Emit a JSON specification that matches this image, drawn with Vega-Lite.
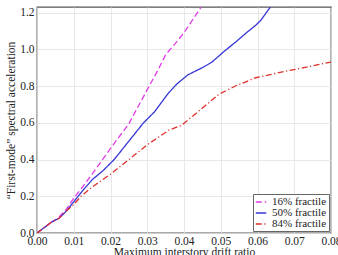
{
  "$schema": "https://vega.github.io/schema/vega-lite/v6.json",
  "width": 294,
  "height": 226,
  "autosize": {"type": "none"},
  "padding": {"left": 37, "top": 7, "right": 7, "bottom": 22},
  "config": {
    "font": "Liberation Serif",
    "view": {"stroke": "#555", "strokeWidth": 1.3},
    "axis": {
      "labelFont": "Liberation Serif",
      "titleFont": "Liberation Serif",
      "labelFontSize": 11.5,
      "titleFontSize": 11.5,
      "titleFontWeight": "normal",
      "labelColor": "#222",
      "titleColor": "#222",
      "gridColor": "#e2e2e2",
      "gridWidth": 0.8,
      "domain": false,
      "ticks": false,
      "labelFlush": false
    }
  },
  "data": {
    "values": [
      {"s": "16% fractile", "x": 0, "y": 0},
      {"s": "16% fractile", "x": 0.002, "y": 0.03},
      {"s": "16% fractile", "x": 0.004, "y": 0.06},
      {"s": "16% fractile", "x": 0.005, "y": 0.072},
      {"s": "16% fractile", "x": 0.006, "y": 0.087},
      {"s": "16% fractile", "x": 0.008, "y": 0.13},
      {"s": "16% fractile", "x": 0.01, "y": 0.19},
      {"s": "16% fractile", "x": 0.012, "y": 0.24},
      {"s": "16% fractile", "x": 0.015, "y": 0.32},
      {"s": "16% fractile", "x": 0.02, "y": 0.46},
      {"s": "16% fractile", "x": 0.025, "y": 0.595},
      {"s": "16% fractile", "x": 0.03, "y": 0.78},
      {"s": "16% fractile", "x": 0.033, "y": 0.89},
      {"s": "16% fractile", "x": 0.035, "y": 0.97},
      {"s": "16% fractile", "x": 0.038, "y": 1.04},
      {"s": "16% fractile", "x": 0.04, "y": 1.09},
      {"s": "16% fractile", "x": 0.0447, "y": 1.23},
      {"s": "50% fractile", "x": 0, "y": 0},
      {"s": "50% fractile", "x": 0.002, "y": 0.03},
      {"s": "50% fractile", "x": 0.004, "y": 0.06},
      {"s": "50% fractile", "x": 0.006, "y": 0.08},
      {"s": "50% fractile", "x": 0.008, "y": 0.12},
      {"s": "50% fractile", "x": 0.01, "y": 0.17},
      {"s": "50% fractile", "x": 0.012, "y": 0.22},
      {"s": "50% fractile", "x": 0.015, "y": 0.29},
      {"s": "50% fractile", "x": 0.018, "y": 0.34},
      {"s": "50% fractile", "x": 0.021, "y": 0.4},
      {"s": "50% fractile", "x": 0.025, "y": 0.5},
      {"s": "50% fractile", "x": 0.029, "y": 0.6},
      {"s": "50% fractile", "x": 0.032, "y": 0.66},
      {"s": "50% fractile", "x": 0.0357, "y": 0.76},
      {"s": "50% fractile", "x": 0.038, "y": 0.81},
      {"s": "50% fractile", "x": 0.041, "y": 0.86},
      {"s": "50% fractile", "x": 0.045, "y": 0.9},
      {"s": "50% fractile", "x": 0.0476, "y": 0.93},
      {"s": "50% fractile", "x": 0.051, "y": 0.99},
      {"s": "50% fractile", "x": 0.0541, "y": 1.04},
      {"s": "50% fractile", "x": 0.057, "y": 1.09},
      {"s": "50% fractile", "x": 0.0595, "y": 1.13},
      {"s": "50% fractile", "x": 0.061, "y": 1.16},
      {"s": "50% fractile", "x": 0.0635, "y": 1.23},
      {"s": "84% fractile", "x": 0, "y": 0},
      {"s": "84% fractile", "x": 0.002, "y": 0.03},
      {"s": "84% fractile", "x": 0.004, "y": 0.06},
      {"s": "84% fractile", "x": 0.006, "y": 0.08},
      {"s": "84% fractile", "x": 0.008, "y": 0.12},
      {"s": "84% fractile", "x": 0.01, "y": 0.155},
      {"s": "84% fractile", "x": 0.012, "y": 0.2},
      {"s": "84% fractile", "x": 0.015, "y": 0.25},
      {"s": "84% fractile", "x": 0.02, "y": 0.32},
      {"s": "84% fractile", "x": 0.025, "y": 0.4},
      {"s": "84% fractile", "x": 0.03, "y": 0.48},
      {"s": "84% fractile", "x": 0.0359, "y": 0.56},
      {"s": "84% fractile", "x": 0.0392, "y": 0.585},
      {"s": "84% fractile", "x": 0.042, "y": 0.63},
      {"s": "84% fractile", "x": 0.0495, "y": 0.755},
      {"s": "84% fractile", "x": 0.054, "y": 0.8},
      {"s": "84% fractile", "x": 0.0595, "y": 0.845},
      {"s": "84% fractile", "x": 0.0676, "y": 0.88},
      {"s": "84% fractile", "x": 0.08, "y": 0.93}
    ]
  },
  "mark": {"type": "line", "clip": true, "strokeWidth": 1.3},
  "encoding": {
    "x": {
      "field": "x", "type": "quantitative",
      "scale": {"domain": [0, 0.08], "nice": false},
      "axis": {"values": [0, 0.01, 0.02, 0.03, 0.04, 0.05, 0.06, 0.07, 0.08], "format": ".2f", "labelPadding": 2, "titlePadding": 0, "labelOverlap": false, "title": "Maximum interstory drift ratio"}
    },
    "y": {
      "field": "y", "type": "quantitative",
      "scale": {"domain": [0, 1.23], "nice": false},
      "axis": {"values": [0, 0.2, 0.4, 0.6, 0.8, 1.0, 1.2], "format": ".1f", "labelPadding": 3, "titlePadding": 3, "labelOverlap": false, "title": "“First-mode” spectral acceleration"}
    },
    "color": {
      "field": "s", "type": "nominal",
      "scale": {"domain": ["16% fractile", "50% fractile", "84% fractile"], "range": ["#e03ce6", "#3535d6", "#e0302a"]},
      "legend": {
        "title": null, "orient": "bottom-right", "offset": 2,
        "strokeColor": "#666", "fillColor": "white", "padding": 2,
        "labelFont": "Liberation Serif", "labelFontSize": 11, "labelColor": "#222",
        "symbolType": "stroke", "symbolSize": 110, "symbolStrokeWidth": 1.3, "rowPadding": 0, "labelOffset": 5
      }
    },
    "strokeDash": {
      "field": "s", "type": "nominal",
      "scale": {"domain": ["16% fractile", "50% fractile", "84% fractile"], "range": [[6, 3], [1, 0], [6, 2.5, 1.2, 2.5]]},
      "legend": null
    }
  }
}
